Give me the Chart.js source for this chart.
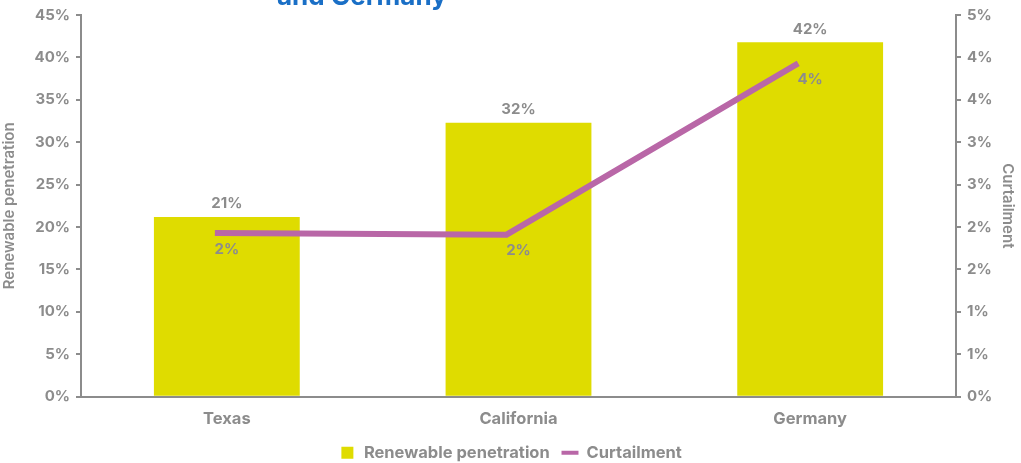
<!DOCTYPE html>
<html>
<head>
<meta charset="utf-8">
<script src="https://cdn.jsdelivr.net/npm/chart.js@4.4.1/dist/chart.umd.min.js"></script>
<style>
  html, body { margin: 0; padding: 0; background: #ffffff; overflow: hidden; }
  #wrap { position: relative; width: 1021px; height: 463px; overflow: hidden; }
  #heading {
    position: absolute; left: 277px; top: -17px; margin: 0;
    font: 700 26px "Inter", "Noto Sans", sans-serif; line-height: 1;
    color: #1a6fc6; white-space: nowrap;
  }
  canvas { position: absolute; left: 0; top: 0; }
</style>
</head>
<body>
<div id="wrap">
  <canvas id="chart" width="1021" height="463"></canvas>
  <div id="heading">and Germany</div>
</div>
<script>
// Regions compared
const categories = ['Texas', 'California', 'Germany'];
// Share of generation from renewables, %
const renewablePenetration = [21.2, 32.3, 41.8];
// Curtailed renewable energy, %
const curtailment = [1.93, 1.91, 3.93];
// Axis ranges and steps
const leftAxis = { max: 45, step: 5 };
const rightAxis = { max: 4.5, step: 0.5 };

const GREY = '#8c8c8c';
const YELLOW = '#dfdc00';
const PINK = '#b967a7';
const FONT = '"Inter", "Noto Sans", sans-serif';

// Percent labels above bars and below line points
const valueLabels = {
  id: 'valueLabels',
  afterDatasetsDraw(chart) {
    const ctx = chart.ctx;
    ctx.save();
    ctx.fillStyle = GREY;
    ctx.font = '700 15px ' + FONT;
    ctx.textAlign = 'center';
    ctx.textBaseline = 'middle';
    chart.getDatasetMeta(0).data.forEach((bar, i) => {
      ctx.fillText(Math.round(renewablePenetration[i]) + '%', bar.x, bar.y - 13);
    });
    const xs = chart.scales.x;
    chart.getDatasetMeta(1).data.forEach((pt, i) => {
      ctx.fillText(Math.round(curtailment[i]) + '%', xs.getPixelForValue(i), pt.y + 16);
    });
    ctx.restore();
  }
};

Chart.defaults.font.family = FONT;
Chart.defaults.font.weight = '700';
Chart.defaults.color = GREY;

new Chart(document.getElementById('chart'), {
  data: {
    labels: categories,
    datasets: [
      {
        type: 'bar',
        label: 'Renewable penetration',
        data: renewablePenetration,
        backgroundColor: YELLOW,
        yAxisID: 'y',
        xAxisID: 'x',
        grouped: false,
        barPercentage: 0.5,
        categoryPercentage: 1,
        order: 2
      },
      {
        type: 'line',
        label: 'Curtailment',
        data: curtailment.map((v, i) => ({ x: i, y: v })),
        borderColor: PINK,
        backgroundColor: PINK,
        borderWidth: 6,
        pointRadius: 0,
        tension: 0,
        yAxisID: 'y1',
        xAxisID: 'xl',
        order: 1
      }
    ]
  },
  options: {
    responsive: false,
    animation: false,
    layout: { padding: { top: 15, left: 0, right: 0, bottom: -8 } },
    plugins: {
      tooltip: { enabled: false },
      title: { display: false },
      legend: {
        position: 'bottom',
        labels: {
          color: GREY,
          font: { size: 16.5, weight: '700' },
          usePointStyle: true,
          boxHeight: 12,
          padding: 12,
          generateLabels(chart) {
            return chart.data.datasets.map((ds, i) => ({
              text: ds.label,
              datasetIndex: i,
              fillStyle: ds.type === 'bar' ? YELLOW : PINK,
              strokeStyle: ds.type === 'bar' ? YELLOW : PINK,
              lineWidth: ds.type === 'bar' ? 0 : 4,
              pointStyle: ds.type === 'bar' ? 'rect' : 'line',
              fontColor: GREY
            }));
          }
        }
      }
    },
    scales: {
      x: {
        type: 'category',
        offset: true,
        grid: { display: false },
        border: { display: true, color: GREY, width: 2 },
        ticks: { color: GREY, font: { size: 16.5, weight: '700' }, padding: 4 }
      },
      xl: {
        type: 'linear',
        display: false,
        min: -0.459,
        max: 2.541
      },
      y: {
        position: 'left',
        min: 0,
        max: leftAxis.max,
        ticks: {
          stepSize: leftAxis.step,
          color: GREY,
          font: { size: 15, weight: '700' },
          padding: 6,
          callback: v => v + '%'
        },
        grid: { drawOnChartArea: false, tickLength: 5, color: GREY, lineWidth: 2 },
        border: { display: true, color: GREY, width: 2 },
        title: {
          display: true,
          text: 'Renewable penetration',
          color: GREY,
          font: { size: 15, weight: '600' },
          padding: { top: 0, bottom: 4 }
        },
        afterFit(s) { s.width = 81; }
      },
      y1: {
        position: 'right',
        min: 0,
        max: rightAxis.max,
        ticks: {
          stepSize: rightAxis.step,
          color: GREY,
          font: { size: 15, weight: '700' },
          padding: 6,
          callback: v => Math.round(v) + '%'
        },
        grid: { drawOnChartArea: false, tickLength: 5, color: GREY, lineWidth: 2 },
        border: { display: true, color: GREY, width: 2 },
        title: {
          display: true,
          text: 'Curtailment',
          color: GREY,
          font: { size: 15, weight: '600' },
          padding: { top: 4, bottom: 0 }
        },
        afterFit(s) { s.width = 65; }
      }
    }
  },
  plugins: [valueLabels]
});
</script>
</body>
</html>
